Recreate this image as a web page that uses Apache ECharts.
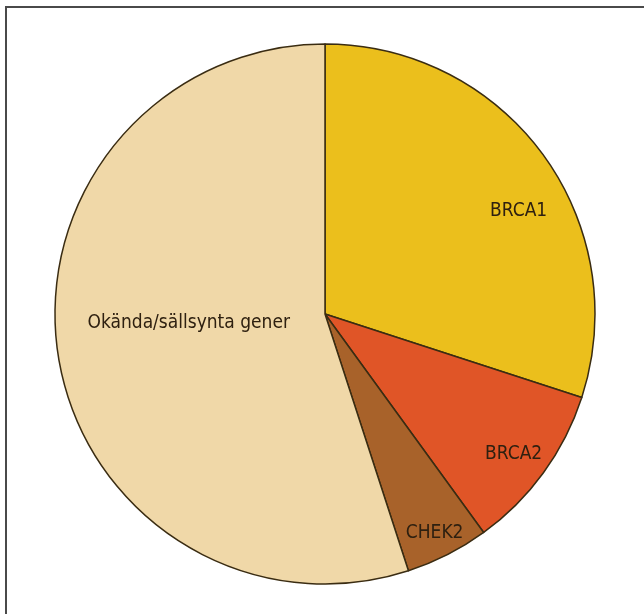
<!DOCTYPE html>
<html>
<head>
<meta charset="utf-8">
<script src="https://cdn.jsdelivr.net/npm/echarts@6/dist/echarts.min.js"></script>
<style>
html,body{margin:0;padding:0;background:#fff;}
#chart{width:644px;height:614px;}
</style>
</head>
<body>
<div id="chart"></div>
<script>
var categories = ['BRCA1', 'BRCA2', 'CHEK2', 'Okända/sällsynta gener'];
var values = [30, 10, 5, 55];
var colors = ['#EBBF1C', '#E05527', '#A8622A', '#F0D8A8'];
// label nudges from the default inside position: [dx, dy]
var labelNudges = [[82, -22], [77, 59], [47, 96], [0, -13]];

var chart = echarts.init(document.getElementById('chart'));
chart.setOption({
  animation: false,
  backgroundColor: '#ffffff',
  graphic: [
    { type: 'rect', shape: { x: 5, y: 6, width: 640, height: 2 }, style: { fill: '#4a4a4a' } },
    { type: 'rect', shape: { x: 5, y: 6, width: 2, height: 610 }, style: { fill: '#4a4a4a' } }
  ],
  series: [{
    type: 'pie',
    center: [325, 314],
    radius: [0, 270],
    startAngle: 90,
    clockwise: true,
    silent: true,
    avoidLabelOverlap: false,
    itemStyle: { borderColor: '#3a2c12', borderWidth: 1.5 },
    label: {
      position: 'inside',
      fontFamily: '"DejaVu Sans Condensed", "Liberation Sans Narrow", sans-serif',
      fontSize: 19,
      color: '#2e2010',
      align: 'center',
      verticalAlign: 'middle'
    },
    labelLine: { show: false },
    labelLayout: function (params) {
      var n = labelNudges[params.dataIndex];
      return { dx: n[0], dy: n[1], hideOverlap: false };
    },
    data: categories.map(function (c, i) {
      return {
        name: c,
        value: values[i],
        itemStyle: { color: colors[i] }
      };
    })
  }]
});
</script>
</body>
</html>
